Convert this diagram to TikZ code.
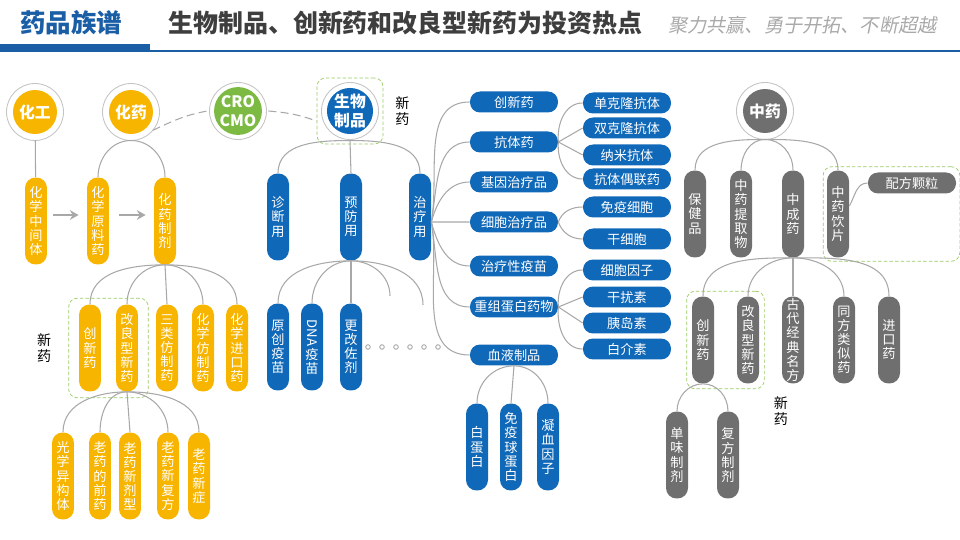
\documentclass[tikz,border=0pt]{standalone}
\usepackage{fontspec}
\setmainfont{Noto Sans CJK SC}
\newfontfamily\slantcjk{Noto Sans CJK SC}[FakeSlant=0.2]
\usepackage{xcolor}
\usepackage{tikz}
\usetikzlibrary{arrows.meta,positioning,fit,calc}

\definecolor{chemorange}{HTML}{F7B500}
\definecolor{bioblue}{HTML}{1068B8}
\definecolor{tcmgray}{HTML}{6F6F6F}
\definecolor{crogreen}{HTML}{7CBA43}
\definecolor{newgreen}{HTML}{9ACB62}
\definecolor{linkgray}{HTML}{A8A8A8}
\definecolor{ringgray}{HTML}{C4C4C4}
\definecolor{brandblue}{HTML}{1A5EA6}
\definecolor{headgray}{HTML}{3E3E3E}
\definecolor{slogangray}{HTML}{A9A9A9}

\begin{document}
\begin{tikzpicture}[
  x=0.02cm, y=-0.02cm,
  >=Stealth,
  every node/.style={font=\fontsize{7.5}{8}\selectfont},
  hub/.style={circle, fill=#1, text=white, minimum size=0.88cm, inner sep=0pt,
    outer sep=0.13cm, align=center, font=\fontsize{9}{10.5}\selectfont\bfseries},
  vpill/.style={rectangle, fill=#1, text=white, rounded corners=0.21cm,
    minimum width=0.44cm, minimum height=1.74cm, inner sep=0pt, align=center},
  hpill/.style={rectangle, fill=#1, text=white, rounded corners=0.2cm,
    minimum width=1.76cm, minimum height=0.42cm, inner sep=0pt},
  ring/.style={draw=ringgray, line width=0.5pt},
  link/.style={draw=linkgray, line width=0.6pt},
  arr/.style={->, draw=linkgray, line width=1.1pt, >={Stealth[length=5pt,width=5.5pt]}},
  newbox/.style={draw=newgreen, dash pattern=on 2pt off 1.2pt, rounded corners=5pt, inner sep=0.1cm},
  newlbl/.style={font=\fontsize{8}{9.5}\selectfont, align=center, inner sep=1pt},
]
\useasboundingbox (0,0) rectangle (960,540);

% === Header ===
\fill[brandblue] (0,44) rectangle (150,52);
\draw[brandblue, line width=0.8pt] (150,51) -- (960,51);
\node[anchor=west, inner sep=0pt, text=brandblue, font=\fontsize{14.5}{16}\selectfont\bfseries] (brand) at (20,23) {药品族谱};
\node[anchor=west, inner sep=0pt, text=headgray, font=\fontsize{14.2}{16}\selectfont\bfseries] (headline) at (168,23) {生物制品、创新药和改良型新药为投资热点};
\node[anchor=west, inner sep=0pt, text=slogangray, font=\slantcjk\fontsize{10.9}{12}\selectfont] (slogan) at (668,25) {聚力共赢、勇于开拓、不断超越};

% === Roots ===
\node[hub=chemorange] (huagong) at (35,112) {化工};
\node[hub=chemorange] (huayao) at (131,112) {化药};
\node[hub=crogreen] (cro) at (238,111) {CRO\\CMO};
\node[hub=bioblue] (bio) at (350,111) {生物\\制品};
\node[hub=tcmgray] (zhongyao) at (765,111) {中药};
\foreach \n in {huagong,huayao,cro,bio,zhongyao}
  \draw[ring] (\n.center) circle[radius=0.57cm];

% === Chemicals ===
\node[vpill=chemorange] (zjt) at (36,221) {化\\学\\中\\间\\体};
\node[vpill=chemorange] (ylyao) at (98,221) {化\\学\\原\\料\\药};
\node[vpill=chemorange] (zhiji) at (165,221) {化\\药\\制\\剂};

\node[vpill=chemorange] (cxy) at (90,348) {创\\新\\药};
\node[vpill=chemorange] (glx) at (127,348) {改\\良\\型\\新\\药};
\node[vpill=chemorange] (slfz) at (167,348) {三\\类\\仿\\制\\药};
\node[vpill=chemorange] (hxfz) at (203,348) {化\\学\\仿\\制\\药};
\node[vpill=chemorange] (hxjk) at (237,348) {化\\学\\进\\口\\药};

\node[vpill=chemorange] (gxyg) at (63,476) {光\\学\\异\\构\\体};
\node[vpill=chemorange] (ldqy) at (100,476) {老\\药\\的\\前\\药};
\node[vpill=chemorange] (lxjx) at (130,476) {老\\药\\新\\剂\\型};
\node[vpill=chemorange] (lxff) at (168,476) {老\\药\\新\\复\\方};
\node[vpill=chemorange] (lxz) at (199,476) {老\\药\\新\\症};

\node[newbox, fit=(cxy)(glx), inner xsep=0.2cm, inner ysep=0.12cm] (chemnew) {};
\node[newlbl, left=0.3cm of chemnew] (chemnewlbl) {新\\药};

% === Biologics ===
\node[vpill=bioblue] (zhenduan) at (278,217) {诊\\断\\用};
\node[vpill=bioblue] (yufang) at (351,217) {预\\防\\用};
\node[vpill=bioblue] (zhiliao) at (420,217) {治\\疗\\用};

\node[vpill=bioblue] (yuanchuang) at (278,347) {原\\创\\疫\\苗};
\node[vpill=bioblue] (dnavac) at (312,347) {\rotatebox{-90}{DNA}\\疫\\苗};
\node[vpill=bioblue] (zuoji) at (351,347) {更\\改\\佐\\剂};
\coordinate (yfmore1) at (390,296);
\coordinate (yfmore2) at (423,305);

\node[newbox, fit=(bio), inner sep=0.07cm] (bionew) {};
\node[newlbl, right=0.2cm of bionew] (bionewlbl) {新\\药};

\node[hpill=bioblue] (cxyao) at (514,102) {创新药};
\node[hpill=bioblue] (kangti) at (514,142) {抗体药};
\node[hpill=bioblue] (jiyin) at (514,182) {基因治疗品};
\node[hpill=bioblue] (xibao) at (514,222) {细胞治疗品};
\node[hpill=bioblue] (zlym) at (514,266) {治疗性疫苗};
\node[hpill=bioblue] (chongzu) at (514,307) {重组蛋白药物};
\node[hpill=bioblue] (xueye) at (514,355) {血液制品};

\node[hpill=bioblue] (dankl) at (627,103) {单克隆抗体};
\node[hpill=bioblue] (shuangkl) at (627,128) {双克隆抗体};
\node[hpill=bioblue] (nami) at (627,155) {纳米抗体};
\node[hpill=bioblue] (ouliang) at (627,179) {抗体偶联药};
\node[hpill=bioblue] (mianyi) at (627,207) {免疫细胞};
\node[hpill=bioblue] (ganxb) at (627,239) {干细胞};
\node[hpill=bioblue] (yinzi) at (627,270) {细胞因子};
\node[hpill=bioblue] (ganrao) at (627,297) {干扰素};
\node[hpill=bioblue] (yidao) at (627,323) {胰岛素};
\node[hpill=bioblue] (baijie) at (627,349) {白介素};

\node[vpill=bioblue] (baidb) at (477,447) {白\\蛋\\白};
\node[vpill=bioblue] (qiudb) at (511,447) {免\\疫\\球\\蛋\\白};
\node[vpill=bioblue] (ningxue) at (548,447) {凝\\血\\因\\子};

% === TCM ===
\node[vpill=tcmgray] (baojian) at (695,214) {保\\健\\品};
\node[vpill=tcmgray] (tiqu) at (741,214) {中\\药\\提\\取\\物};
\node[vpill=tcmgray] (zcy) at (793,214) {中\\成\\药};
\node[vpill=tcmgray] (yinpian) at (838,214) {中\\药\\饮\\片};
\node[hpill=tcmgray] (peifang) at (912,183) {配方颗粒};

\node[vpill=tcmgray] (tcx) at (703,340) {创\\新\\药};
\node[vpill=tcmgray] (tgl) at (748,340) {改\\良\\型\\新\\药};
\node[vpill=tcmgray] (gudai) at (793,340) {古\\代\\经\\典\\名\\方};
\node[vpill=tcmgray] (tongfang) at (844,340) {同\\方\\类\\似\\药};
\node[vpill=tcmgray] (tjk) at (889,340) {进\\口\\药};

\node[vpill=tcmgray] (danwei) at (677,455) {单\\味\\制\\剂};
\node[vpill=tcmgray] (fufang) at (728,455) {复\\方\\制\\剂};

\node[newbox, fit=(yinpian)(peifang), inner sep=0.07cm] (tcmpf) {};
\node[newbox, fit=(tcx)(tgl), inner sep=0.1cm] (tcmnew) {};
\node[newlbl, below right=0.1cm and 0.14cm of tcmnew.south east, anchor=north west] (tcmnewlbl) {新\\药};

% === Links: chemicals ===
\draw[link] (huagong) -- (zjt);
\draw[link] (huayao.south) to[out=180,in=90] (ylyao.north);
\draw[link] (huayao.south) to[out=0,in=90] (zhiji.north);
\draw[arr, shorten <=0.12cm, shorten >=0.16cm] ([yshift=0.12cm]zjt.east) -- ([yshift=0.12cm]ylyao.west);
\draw[arr, shorten <=0.2cm, shorten >=0.16cm] ([yshift=0.12cm]ylyao.east) -- ([yshift=0.12cm]zhiji.west);
\draw[link, dash pattern=on 4.5pt off 2.5pt] (huayao.-40) to[out=25,in=190] (cro.west);
\draw[link, dash pattern=on 4.5pt off 2.5pt] (cro.east) to[out=-5,in=160] (bionew.west |- bio.200);

\draw[link] (zhiji.south) to[out=180,in=90] (cxy.north);
\draw[link] (zhiji.south) to[out=180,in=90] (glx.north);
\draw[link] (zhiji.south) -- (slfz.north);
\draw[link] (zhiji.south) to[out=0,in=90] (hxfz.north);
\draw[link] (zhiji.south) to[out=0,in=90] (hxjk.north);

\draw[link] (glx.south) to[out=180,in=90] (gxyg.north);
\draw[link] (glx.south) to[out=180,in=90] (ldqy.north);
\draw[link] (glx.south) -- (lxjx.north);
\draw[link] (glx.south) to[out=0,in=90] (lxff.north);
\draw[link] (glx.south) to[out=0,in=90] (lxz.north);

% === Links: biologics ===
\draw[link] (bio.south) to[out=180,in=90] (zhenduan.north);
\draw[link] (bio.south) -- (yufang.north);
\draw[link] (bio.south) to[out=0,in=90] (zhiliao.north);

\draw[link] (yufang.south) to[out=180,in=90] (yuanchuang.north);
\draw[link] (yufang.south) to[out=180,in=90] (dnavac.north);
\draw[link] (yufang.south) -- (zuoji.north);
\draw[link] (yufang.south) to[out=0,in=90] (yfmore1);
\draw[link] (yufang.south) to[out=0,in=90] (yfmore2);
\foreach \i in {0,...,5}
  \draw[linkgray, line width=0.5pt] (368+14*\i,347) circle[radius=1.3pt];

\coordinate (zlfan) at ([yshift=-0.1cm]zhiliao.east);
\draw[link] (zlfan) to[out=80,in=180] (cxyao.west);
\draw[link] (zlfan) to[out=80,in=180] (kangti.west);
\draw[link] (zlfan) to[out=75,in=180] (jiyin.west);
\draw[link] (zlfan) -- (xibao.west);
\draw[link] (zlfan) to[out=-75,in=180] (zlym.west);
\draw[link] (zlfan) to[out=-80,in=180] (chongzu.west);
\draw[link] (zlfan) to[out=-80,in=180] (xueye.west);

\draw[link] (kangti.east) to[out=95,in=180] (dankl.west);
\draw[link] (kangti.east) -- (shuangkl.west);
\draw[link] (kangti.east) -- (nami.west);
\draw[link] (kangti.east) to[out=-95,in=180] (ouliang.west);

\draw[link] (xibao.east) to[out=70,in=180] (mianyi.west);
\draw[link] (xibao.east) to[out=-70,in=180] (ganxb.west);

\draw[link] (chongzu.east) to[out=95,in=180] (yinzi.west);
\draw[link] (chongzu.east) -- (ganrao.west);
\draw[link] (chongzu.east) -- (yidao.west);
\draw[link] (chongzu.east) to[out=-95,in=180] (baijie.west);

\draw[link] (xueye.south) to[out=180,in=90] (baidb.north);
\draw[link] (xueye.south) -- (qiudb.north);
\draw[link] (xueye.south) to[out=0,in=90] (ningxue.north);

% === Links: TCM ===
\draw[link] (zhongyao.south) to[out=180,in=90] (baojian.north);
\draw[link] (zhongyao.south) to[out=180,in=90] (tiqu.north);
\draw[link] (zhongyao.south) to[out=0,in=90] (zcy.north);
\draw[link] (zhongyao.south) to[out=0,in=90] (yinpian.north);
\draw[link] ([yshift=0.16cm]yinpian.east) to[out=60,in=180] (peifang.west);

\draw[link] (zcy.south) to[out=180,in=90] (tcx.north);
\draw[link] (zcy.south) to[out=180,in=90] (tgl.north);
\draw[link] (zcy.south) -- (gudai.north);
\draw[link] (zcy.south) to[out=0,in=90] (tongfang.north);
\draw[link] (zcy.south) to[out=0,in=90] (tjk.north);

\draw[link] (tcx.south) to[out=180,in=90] (danwei.north);
\draw[link] (tcx.south) to[out=0,in=90] (fufang.north);

\end{tikzpicture}
\end{document}
